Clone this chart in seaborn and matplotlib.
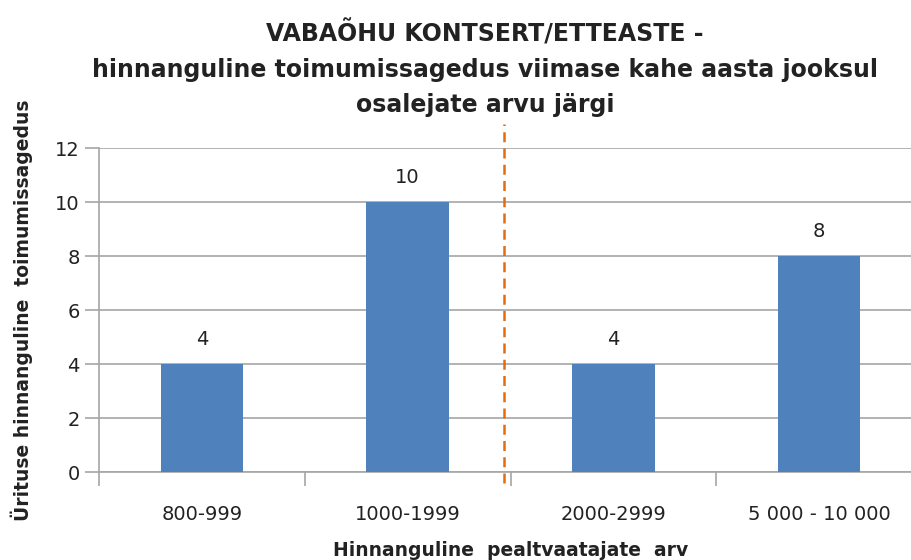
import matplotlib
matplotlib.use("Agg")
import matplotlib.pyplot as plt
import seaborn as sns
import pandas as pd

kategooriad = ["800-999", "1000-1999", "2000-2999", "5 000 - 10 000"]
vaartused = [4, 10, 4, 8]
pealkiri = ("VABAÕHU KONTSERT/ETTEASTE -\n"
            "hinnanguline toimumissagedus viimase kahe aasta jooksul\n"
            "osalejate arvu järgi")

df = pd.DataFrame({"kategooria": kategooriad, "arv": vaartused})

sns.set_style("white")
plt.rcParams["font.family"] = ["DejaVu Sans"]

fig = plt.figure(figsize=(9.11, 5.6), dpi=100)
ax = fig.add_axes([99 / 911, 1 - 472 / 560, 823 / 911, 324 / 560])

sns.barplot(data=df, x="kategooria", y="arv", color="#4F81BD",
            width=0.4, saturation=1, linewidth=0, edgecolor="none",
            ax=ax, zorder=3)

ax.set_ylim(0, 12)
ax.set_xlim(-0.5, 3.5)
ax.set_yticks(range(0, 13, 2))
ax.yaxis.grid(True, color="#A6A6A6", linewidth=1.2, zorder=0)
ax.set_axisbelow(True)

for s in ["top", "right"]:
    ax.spines[s].set_visible(False)
for s in ["left", "bottom"]:
    ax.spines[s].set_color("#A6A6A6")
    ax.spines[s].set_linewidth(1.2)

ax.tick_params(axis="y", left=True, length=10, width=1.2, color="#A6A6A6",
               labelsize=14, labelcolor="#222222", pad=4)
ax.tick_params(axis="x", which="major", bottom=False, length=0, labelsize=14,
               labelcolor="#222222", pad=24)
ax.set_xticks([-0.5, 0.5, 1.5, 2.5], minor=True)
ax.tick_params(axis="x", which="minor", bottom=True, length=10, width=1.2,
               color="#A6A6A6")

for i, v in enumerate(vaartused):
    ax.annotate(str(v), xy=(i, v), xytext=(0, 11), textcoords="offset points",
                ha="center", va="bottom", fontsize=14, color="#222222")

ax.axvline(1.47, ymin=-0.035, ymax=1.075, color="#E46C0A", linestyle=(0, (4, 2.5)),
           linewidth=1.8, clip_on=False, zorder=4)

ax.set_xlabel("Hinnanguline  pealtvaatajate  arv", fontsize=13.5,
              fontweight="bold", labelpad=12, color="#222222")
ax.set_ylabel("Ürituse hinnanguline  toimumissagedus", fontsize=13.5,
              fontweight="bold", labelpad=16, color="#222222")

fig.text(485 / 911, 1 - 20 / 560, pealkiri, ha="center", va="top", fontsize=17,
         fontweight="bold", linespacing=1.6, color="#222222")

fig.savefig("out.png", dpi=100)
